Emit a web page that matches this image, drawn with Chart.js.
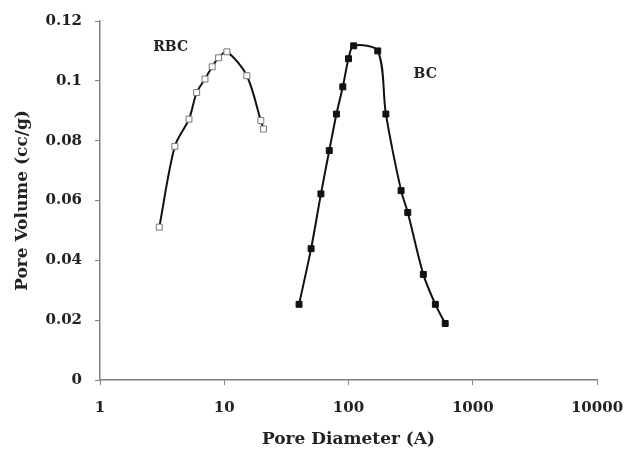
<!DOCTYPE html>
<html>
<head>
<meta charset="utf-8">
<script src="https://cdn.jsdelivr.net/npm/chart.js@4.4.0/dist/chart.umd.min.js"></script>
<style>
  html, body { margin: 0; padding: 0; background: #fff; }
  #wrap { width: 625px; height: 461px; }
</style>
</head>
<body>
<div id="wrap"><canvas id="myChart" width="625" height="461"></canvas></div>
<script>
// RBC: open squares
var rbcDiameter = [3, 4, 5.2, 6, 7, 8, 9, 10.5, 15.2, 19.7, 20.7];
var rbcVolume   = [0.0511, 0.0781, 0.0872, 0.0961, 0.1006, 0.1047, 0.1077, 0.1097, 0.1017, 0.0867, 0.0839];

// BC: filled squares
var bcDiameter = [40, 50, 60, 70, 80, 90, 100, 110, 172, 200, 265, 300, 400, 500, 600];
var bcVolume   = [0.0253, 0.0439, 0.0622, 0.0767, 0.0889, 0.098, 0.1074, 0.1117, 0.110, 0.0889, 0.0633, 0.056, 0.0353, 0.0253, 0.0189];

var xTicks = [1, 10, 100, 1000, 10000];
var xTickLabels = ['1', '10', '100', '1000', '10000'];
var yTickLabels = ['0', '0.02', '0.04', '0.06', '0.08', '0.1', '0.12'];

var seriesNames = ['RBC', 'BC'];
var nameX = [3.7, 414];
var nameY = [0.1113, 0.1023];

function pairs(xs, ys) {
  return xs.map(function (x, i) { return {x: x, y: ys[i]}; });
}

var serif = "'DejaVu Serif', 'Liberation Serif', serif";

// writes the series names inside the plot
var seriesNotes = {
  id: 'seriesNotes',
  afterDatasetsDraw: function (chart) {
    var c = chart.ctx, xs = chart.scales.x, ys = chart.scales.y;
    c.save();
    c.fillStyle = '#222';
    c.font = 'bold 14px ' + serif;
    c.textAlign = 'center';
    c.textBaseline = 'middle';
    seriesNames.forEach(function (n, i) {
      c.fillText(n, xs.getPixelForValue(nameX[i]), ys.getPixelForValue(nameY[i]));
    });
    c.restore();
  }
};

var ctx = document.getElementById('myChart').getContext('2d');
var myChart = new Chart(ctx, {
  type: 'scatter',
  data: {
    datasets: [{
      label: 'RBC',
      data: pairs(rbcDiameter, rbcVolume),
      showLine: true,
      tension: 0.3,
      borderColor: '#111',
      borderWidth: 2,
      pointStyle: 'rect',
      pointRadius: 4.2,
      pointBorderColor: '#777',
      pointBackgroundColor: '#fff',
      pointBorderWidth: 1
    }, {
      label: 'BC',
      data: pairs(bcDiameter, bcVolume),
      showLine: true,
      tension: 0.3,
      borderColor: '#111',
      borderWidth: 2,
      pointStyle: 'rect',
      pointRadius: 4.2,
      pointBorderColor: '#111',
      pointBackgroundColor: '#111',
      pointBorderWidth: 1
    }]
  },
  options: {
    responsive: false,
    animation: false,
    layout: { padding: { top: 21, right: 28, left: 0, bottom: 0 } },
    scales: {
      x: {
        type: 'logarithmic',
        min: 1,
        max: 10000,
        afterBuildTicks: function (s) {
          s.ticks = xTicks.map(function (v) { return {value: v}; });
        },
        afterFit: function (s) {
          s.height = 81;
          s.paddingLeft = 0;
          s.paddingRight = 0;
        },
        grid: { drawOnChartArea: false, drawTicks: true, tickLength: 5, color: '#808080' },
        border: { display: true, color: '#808080', width: 1.5 },
        ticks: {
          color: '#222',
          padding: 14,
          maxRotation: 0,
          autoSkip: false,
          font: { family: serif, size: 15, weight: 'bold' },
          callback: function (v, i) { return xTickLabels[i]; }
        },
        title: {
          display: true,
          text: 'Pore Diameter (A)',
          color: '#222',
          padding: { top: 0, bottom: 11 },
          font: { family: serif, size: 17, weight: 'bold' }
        }
      },
      y: {
        min: 0,
        max: 0.12,
        afterFit: function (s) {
          s.width = 100;
          s.paddingTop = 0;
          s.paddingBottom = 0;
        },
        grid: { drawOnChartArea: false, drawTicks: true, tickLength: 5, color: '#808080' },
        border: { display: true, color: '#808080', width: 1.5 },
        ticks: {
          stepSize: 0.02,
          color: '#222',
          padding: 13,
          font: { family: serif, size: 15, weight: 'bold' },
          callback: function (v, i) { return yTickLabels[i]; }
        },
        title: {
          display: true,
          text: 'Pore Volume (cc/g)',
          color: '#222',
          padding: { top: 12, bottom: 0 },
          font: { family: serif, size: 17, weight: 'bold' }
        }
      }
    },
    plugins: {
      legend: { display: false },
      tooltip: { enabled: false }
    }
  },
  plugins: [seriesNotes]
});
</script>
</body>
</html>
